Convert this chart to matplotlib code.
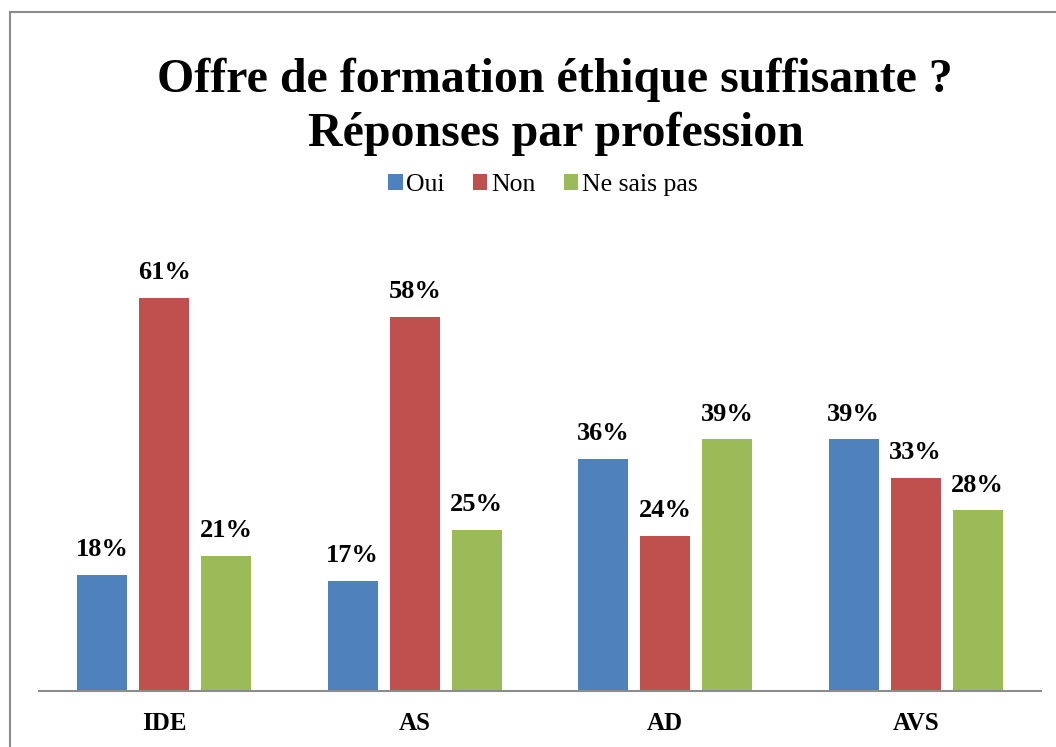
import matplotlib
matplotlib.use("Agg")
import matplotlib.pyplot as plt
from matplotlib.lines import Line2D
from matplotlib.patches import Patch
import numpy as np

categories = ["IDE", "AS", "AD", "AVS"]
series_names = ["Oui", "Non", "Ne sais pas"]
oui = [18, 17, 36, 39]
non = [61, 58, 24, 33]
nsp = [21, 25, 39, 28]
colors = ["#4F81BD", "#C0504D", "#9BBB59"]

plt.rcParams['font.family'] = ['Liberation Serif', 'DejaVu Serif']

W, H = 1056, 747
fig = plt.figure(figsize=(W / 100, H / 100), dpi=100)
fig.patch.set_facecolor("white")

# outer border (left and top)
fig.add_artist(Line2D([10 / W, 10 / W], [0, 1 - 12 / H], transform=fig.transFigure, color="#8C8C8C", lw=1.5))
fig.add_artist(Line2D([10 / W, 1], [1 - 12 / H, 1 - 12 / H], transform=fig.transFigure, color="#8C8C8C", lw=1.5))

ax_left, ax_right = 39 / W, 1041 / W
ax_bottom = (H - 691) / H
ymax = 70
px_per = 6.45
ax_top_px = 691 - ymax * px_per
ax = fig.add_axes([ax_left, ax_bottom, ax_right - ax_left, (691 - ax_top_px) / H])

x = np.arange(len(categories))
bw = 0.2
step = 0.2475
for i, (vals, name, c) in enumerate(zip([oui, non, nsp], series_names, colors)):
    pos = x + (i - 1) * step
    ax.bar(pos, vals, width=bw, color=c, label=name)
    for p, v in zip(pos, vals):
        ax.annotate(f"{v}%", (p, v), xytext=(0, 10), textcoords="offset points",
                    ha="center", va="bottom", fontsize=19, fontweight="bold")

ax.set_xlim(-0.5, len(categories) - 0.5)
ax.set_ylim(0, ymax)
ax.set_xticks(x)
ax.set_xticklabels(categories, fontsize=18, fontweight="bold")
ax.tick_params(axis="x", length=0, pad=15)
ax.set_yticks([])
for s in ["top", "right", "left"]:
    ax.spines[s].set_visible(False)
ax.spines["bottom"].set_color("#8C8C8C")
ax.spines["bottom"].set_linewidth(1.5)

fig.text(555 / W, 1 - 80 / H, "Offre de formation éthique suffisante ?", ha="center", va="center",
         fontsize=34.5, fontweight="bold")
fig.text(556 / W, 1 - 134 / H, "Réponses par profession", ha="center", va="center",
         fontsize=34.5, fontweight="bold")

handles = [Patch(facecolor=c, label=n) for c, n in zip(colors, series_names)]
fig.legend(handles=handles, loc="center", bbox_to_anchor=(543 / W, 1 - 185 / H), ncol=3,
           frameon=False, fontsize=18.5, handlelength=0.55, handleheight=0.55, handletextpad=0.15,
           columnspacing=1.1)

fig.savefig("out.png", dpi=100)
